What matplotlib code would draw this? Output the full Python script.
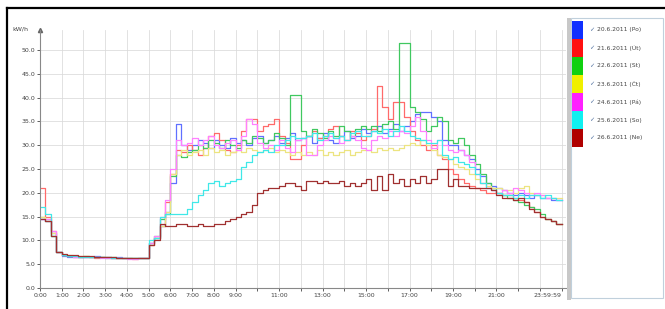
import numpy as np
import matplotlib
matplotlib.use("Agg")
import matplotlib.pyplot as plt
from matplotlib.patches import Rectangle
from matplotlib.lines import Line2D

# 15-minute averages, kW, 96 values per day (rows = 3 hours)
po = [14.5, 14.0, 11.5, 7.5, 6.8, 6.6, 6.6, 6.5, 6.6, 6.5, 6.7, 6.5,
      6.6, 6.4, 6.5, 6.3, 6.3, 6.2, 6.4, 6.2, 9.5, 10.5, 13.0, 16.0,
      22.0, 34.5, 30.0, 29.0, 30.0, 31.0, 30.5, 29.5, 31.0, 30.0, 29.5, 31.5,
      30.5, 31.0, 30.0, 31.5, 32.0, 30.5, 31.0, 32.0, 30.5, 31.5, 32.5, 31.0,
      31.5, 32.0, 30.5, 31.5, 32.5, 31.0, 30.5, 32.0, 33.0, 31.5, 32.0, 33.5,
      32.5, 33.0, 34.0, 32.5, 33.5, 34.5, 33.0, 34.0, 35.0, 36.5, 37.0, 37.0,
      36.0, 35.0, 31.0, 30.0, 30.0, 29.0, 28.0, 27.0, 25.0, 23.5, 22.0, 21.5,
      21.0, 20.5, 20.0, 19.5, 20.0, 19.5, 19.0, 19.5, 19.0, 19.0, 18.5, 18.5]
ut = [21.0, 15.0, 12.0, 7.5, 7.0, 6.8, 6.6, 6.6, 6.5, 6.6, 6.4, 6.5,
      6.5, 6.3, 6.4, 6.2, 6.3, 6.1, 6.2, 6.3, 9.0, 10.5, 13.0, 18.0,
      24.0, 29.0, 28.5, 30.0, 29.0, 28.0, 29.5, 32.0, 32.5, 31.0, 29.0, 28.5,
      30.0, 33.0, 35.5, 35.5, 33.0, 34.0, 34.5, 35.5, 32.0, 30.5, 27.0, 27.0,
      30.0, 32.0, 33.0, 31.5, 32.0, 33.5, 34.0, 32.0, 31.0, 33.0, 32.5, 31.0,
      32.0, 33.5, 42.5, 38.0, 35.5, 39.0, 39.0, 36.0, 33.0, 31.0, 30.0, 29.0,
      30.0, 28.0, 27.0, 25.0, 24.0, 23.0, 22.0, 21.5, 21.0, 20.5, 20.0, 20.0,
      20.0, 19.5, 19.5, 19.0, 18.5, 18.0, 17.0, 16.0, 15.0, 14.5, 14.0, 13.5]
st = [15.0, 14.0, 11.0, 7.5, 7.0, 6.8, 6.7, 6.6, 6.7, 6.5, 6.6, 6.5,
      6.4, 6.5, 6.3, 6.3, 6.2, 6.2, 6.3, 6.2, 9.5, 11.0, 14.5, 15.5,
      23.5, 28.0, 27.5, 28.5, 29.0, 30.0, 29.5, 31.0, 30.5, 29.5, 31.0, 30.0,
      29.5, 31.0, 30.5, 32.0, 31.5, 30.5, 31.0, 32.5, 31.5, 30.0, 40.5, 40.5,
      33.0, 32.0, 33.5, 32.5, 31.5, 33.0, 32.0, 34.0, 33.0, 32.0, 33.5, 34.0,
      33.5, 34.0, 33.0, 34.5, 35.0, 33.5, 51.5, 51.5, 38.0, 37.0, 35.5, 33.0,
      34.0, 36.0, 35.0, 31.0, 30.5, 31.5, 30.0, 28.0, 26.0, 24.0, 22.0, 21.0,
      20.0, 19.5, 19.0, 18.5, 18.0, 17.5, 17.0, 16.5, 15.5, 14.5, 14.0, 13.5]
ct = [15.0, 14.5, 11.5, 7.5, 7.0, 6.9, 6.8, 6.7, 6.7, 6.6, 6.6, 6.5,
      6.5, 6.4, 6.4, 6.3, 6.2, 6.3, 6.2, 6.2, 9.0, 10.5, 13.0, 16.0,
      24.0, 28.0, 29.0, 28.0, 28.5, 29.0, 28.0, 29.5, 28.5, 29.0, 28.0, 28.5,
      29.0, 28.5, 29.5, 29.0, 28.5, 29.0, 29.5, 28.5, 29.0, 28.5, 28.0, 28.5,
      28.0, 28.5, 28.0, 29.0, 28.0, 28.5, 28.0, 28.5, 29.0, 28.0, 28.5, 29.0,
      29.0, 28.5, 29.5, 29.0, 29.5, 29.0, 29.5, 30.0, 30.5, 30.0, 31.0, 30.0,
      29.0, 28.0, 27.5, 27.0, 26.0, 25.5, 25.0, 24.0, 23.0, 22.0, 21.5, 21.0,
      21.0, 20.5, 20.5, 20.0, 21.0, 21.5, 20.0, 19.5, 19.5, 19.0, 19.0, 19.0]
pa = [14.5, 14.5, 12.0, 7.5, 7.0, 6.8, 6.6, 6.6, 6.5, 6.5, 6.6, 6.4,
      6.3, 6.3, 6.2, 6.2, 6.1, 6.1, 6.2, 6.2, 9.5, 11.0, 15.0, 18.5,
      25.0, 31.0, 30.0, 30.5, 31.5, 30.0, 31.0, 32.0, 30.0, 29.5, 30.5, 31.0,
      29.0, 32.0, 35.5, 34.5, 30.5, 29.5, 30.0, 29.0, 31.0, 29.5, 28.5, 31.0,
      31.5, 28.0, 28.0, 30.0, 31.0, 32.0, 31.5, 30.5, 31.0, 32.0, 31.0, 29.5,
      29.0, 31.0, 32.0, 31.5, 33.0, 32.0, 33.0, 32.5, 34.0, 36.0, 33.0, 31.0,
      29.5, 31.0, 30.0, 29.0, 28.5, 29.0, 28.0, 26.5, 24.0, 22.0, 21.0, 20.5,
      20.0, 20.5, 20.0, 21.0, 20.5, 20.0, 19.5, 20.0, 19.5, 19.0, 19.0, 18.5]
so = [17.0, 15.5, 11.0, 7.5, 7.0, 6.8, 6.7, 6.5, 6.6, 6.5, 6.6, 6.5,
      6.5, 6.4, 6.3, 6.3, 6.2, 6.3, 6.2, 6.2, 10.0, 10.5, 15.0, 15.5,
      15.5, 15.5, 15.5, 16.5, 18.0, 19.5, 20.5, 22.0, 22.5, 21.5, 22.0, 22.5,
      23.0, 25.5, 26.5, 28.0, 28.5, 29.0, 28.5, 30.0, 30.0, 31.0, 32.0, 31.5,
      31.5, 32.0, 32.5, 31.0, 32.0, 32.5, 31.5, 32.0, 31.0, 32.5, 33.0, 32.0,
      32.0, 33.0, 32.5, 33.5, 32.0, 33.0, 34.0, 33.0, 32.0, 31.5, 31.0, 30.5,
      30.5, 31.0, 28.0, 27.0, 27.5, 26.5, 26.0, 25.5, 24.0, 22.0, 21.0, 20.5,
      20.0, 19.5, 19.5, 19.0, 19.5, 19.0, 19.5, 19.5, 19.0, 19.5, 19.0, 18.5]
ne = [14.5, 14.0, 11.0, 7.5, 7.2, 7.0, 6.9, 6.8, 6.8, 6.7, 6.6, 6.6,
      6.5, 6.5, 6.4, 6.3, 6.3, 6.2, 6.3, 6.2, 9.0, 10.0, 13.5, 13.0,
      13.0, 13.5, 13.5, 13.0, 13.0, 13.5, 13.0, 13.0, 13.5, 13.5, 14.0, 14.5,
      15.0, 15.5, 16.0, 17.5, 20.0, 20.5, 21.0, 21.0, 21.5, 22.0, 22.0, 21.5,
      20.5, 22.5, 22.5, 22.0, 22.5, 22.0, 22.0, 22.5, 21.5, 22.0, 21.5, 22.0,
      23.0, 20.5, 23.5, 20.5, 24.0, 22.0, 23.0, 21.5, 23.0, 22.0, 23.5, 22.0,
      23.0, 25.0, 25.0, 21.5, 23.0, 21.5, 21.5, 21.0, 21.0, 21.0, 21.0, 20.5,
      19.5, 19.0, 19.0, 18.5, 19.0, 18.0, 16.5, 16.0, 15.0, 14.5, 14.0, 13.5]

series = [po, ut, st, ct, pa, so, ne]
names = ["20.6.2011 (Po)", "21.6.2011 (Út)", "22.6.2011 (St)", "23.6.2011 (Čt)",
         "24.6.2011 (Pá)", "25.6.2011 (So)", "26.6.2011 (Ne)"]
colors = ["#1030ff", "#ff1010", "#10d010", "#f0f000", "#ff20ff", "#10f0f0", "#b00000"]
line_colors = ["#6070ff", "#ff6a6a", "#40c860", "#ece480", "#ff80ff", "#40e8e8", "#a03030"]

x_labels = {0: "0:00", 1: "1:00", 2: "2:00", 3: "3:00", 4: "4:00", 5: "5:00",
            6: "6:00", 7: "7:00", 8: "8:00", 9: "9:00", 11: "11:00", 13: "13:00",
            15: "15:00", 17: "17:00", 19: "19:00", 21: "21:00", 24: "23:59:59"}

fig = plt.figure(figsize=(6.65, 3.09), dpi=100)
ax = fig.add_axes([40 / 665, 1 - 288 / 309, 526 / 665, 258 / 309])

hours = np.arange(97) / 4
for vals, c in zip(series, line_colors):
    ax.plot(hours, vals + [vals[-1]], drawstyle="steps-post", color=c, lw=0.9)

ax.set_xlim(0, 24.2)
ax.set_ylim(0, 54.2)
ax.set_xticks(range(25))
ax.set_xticklabels([x_labels.get(h, "") for h in range(25)])
ax.get_xticklabels()[-1].set_horizontalalignment("right")
ax.set_yticks(np.arange(0, 51, 5))
ax.set_yticklabels(["%.1f" % v for v in np.arange(0, 51, 5)])
ax.tick_params(labelsize=4.5, colors="#444444", length=2, width=0.6, pad=1.5)
ax.grid(True, color="#dadada", lw=0.55)
ax.set_axisbelow(True)
for s in ["top", "right"]:
    ax.spines[s].set_visible(False)
for s in ["left", "bottom"]:
    ax.spines[s].set_color("#888888")
    ax.spines[s].set_linewidth(0.8)
ax.plot(0, 1, "^", transform=ax.transAxes, color="#666666", ms=3, clip_on=False)
fig.text(12 / 665, 1 - 29 / 309, "kW/h", fontsize=4.5, color="#444444", va="center")

# outer frame (top and left)
fig.add_artist(Line2D([7 / 665, 665 / 665], [1 - 8 / 309, 1 - 8 / 309], color="black", lw=1.6))
fig.add_artist(Line2D([7 / 665, 7 / 665], [0, 1 - 8 / 309], color="black", lw=1.6))

# legend panel
fig.add_artist(Rectangle((567 / 665, 1 - 300 / 309), 4 / 665, 282 / 309,
                         transform=fig.transFigure, facecolor="#c8c8c8", edgecolor="none"))
fig.add_artist(Rectangle((571 / 665, 1 - 298 / 309), 92 / 665, 280 / 309,
                         transform=fig.transFigure, facecolor="white", edgecolor="#c0d0dc", lw=0.8))
for i, (nm, c) in enumerate(zip(names, colors)):
    top = 21 + i * 18
    fig.add_artist(Rectangle((572 / 665, 1 - (top + 18) / 309), 11 / 665, 18 / 309,
                             transform=fig.transFigure, facecolor=c, edgecolor="none"))
    yc = 1 - (top + 9) / 309
    fig.text(589 / 665, yc, "\u2713", fontsize=4.5, color="#5070a0", va="center")
    fig.text(597 / 665, yc, nm, fontsize=4.3, color="#444444", va="center")

fig.savefig("out.png", dpi=100)
